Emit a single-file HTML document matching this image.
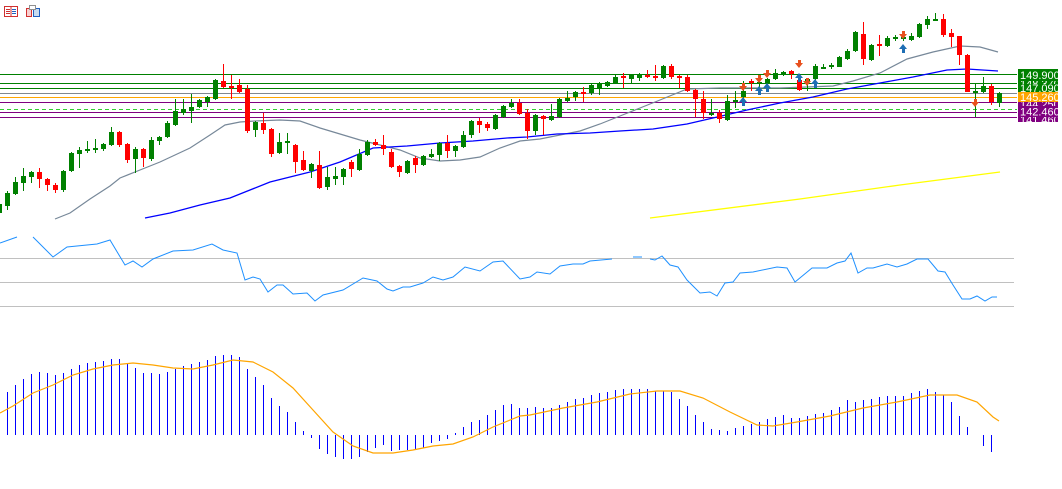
<!DOCTYPE html>
<html><head><meta charset="utf-8"><style>
html,body{margin:0;padding:0;background:#fff;width:1062px;height:489px;overflow:hidden}
svg{display:block}
text{font-family:"Liberation Sans",sans-serif;font-size:11px;fill:#fff}
</style></head><body>
<svg id="s" width="1062" height="489" viewBox="0 0 1062 489" xmlns="http://www.w3.org/2000/svg" shape-rendering="crispEdges">
<!-- icons -->
<rect x="4.5" y="6.5" width="13" height="10" fill="#fff" stroke="#d03030"/>
<line x1="11" y1="7" x2="11" y2="16" stroke="#d03030"/>
<line x1="12" y1="9.5" x2="16" y2="9.5" stroke="#2060c0"/><line x1="12" y1="11.5" x2="16" y2="11.5" stroke="#2060c0"/><line x1="12" y1="13.5" x2="16" y2="13.5" stroke="#2060c0"/>
<line x1="6" y1="9.5" x2="10" y2="9.5" stroke="#d03030"/><line x1="6" y1="11.5" x2="10" y2="11.5" stroke="#d03030"/><line x1="6" y1="13.5" x2="10" y2="13.5" stroke="#d03030"/>
<rect x="26.5" y="8.5" width="5" height="8" fill="#f8d0d0" stroke="#d03030"/>
<rect x="33.5" y="8.5" width="6" height="8" fill="#c8dcf0" stroke="#2060c0"/>
<rect x="29.5" y="5.5" width="6" height="4" fill="#fff" stroke="#909090"/>
<g id="g"></g>
</svg>
<script>
var g=document.getElementById('g');var NS='http://www.w3.org/2000/svg';
function el(t,a){var e=document.createElementNS(NS,t);for(var k in a)e.setAttribute(k,a[k]);g.appendChild(e);return e;}
function poly(pts,c,w){el('polyline',{points:pts.map(function(p){return p.join(',')}).join(' '),fill:'none',stroke:c,'stroke-width':w||1,'shape-rendering':'auto'});}
// horizontal levels
[[74.5,'#008000'],[83.5,'#008000'],[88.5,'#008000'],[93.5,'#808890'],[97.5,'#ffa500'],[102.5,'#800080'],[112.5,'#800080'],[117.5,'#800080']].forEach(function(l){el('line',{x1:0,x2:1017,y1:l[0],y2:l[0],stroke:l[1],'stroke-width':1.3});});
el('line',{x1:0,x2:1017,y1:109.5,y2:109.5,stroke:'#32cd32','stroke-dasharray':'4,3'});
// MAs
poly([[55,219],[70,213],[90,199],[110,186],[120,178],[140,170],[160,162],[190,148],[210,135],[225,125],[240,122],[255,121],[280,120],[300,121],[320,128],[340,134],[360,140],[380,145],[400,150],[420,158],[440,161],[460,160],[480,157],[500,148],[520,141],[540,139],[560,135],[580,131],[600,124],[620,116],[640,108],[660,100],[687,89],[720,88],[780,88],[833,86],[853,81],[880,73],[907,59],[933,52],[960,46],[980,47],[998,52]],'#778899',1.2);
poly([[145,218],[170,213],[200,205],[230,198],[250,190],[270,182],[290,177],[310,172],[340,162],[373,148],[407,146],[440,143],[473,141],[507,138],[527,137],[557,134],[590,133],[620,131],[653,129],[687,124],[713,118],[747,110],[780,103],[813,97],[847,89],[880,83],[913,77],[947,70],[967,69],[998,71]],'#0000ff',1.3);
poly([[650,218],[800,199],[900,185],[1000,172]],'#ffff00',1.3);
// candles [o,c,h,l]
var C={};
function add(i,o,c,h,l){C[i]=[o,c,h==null?Math.min(o,c)-2:h,l==null?Math.max(o,c)+2:l];}
var d=[[-1,213,204],[0,206,193,null,210],[1,194,182,177,195],[2,183,176,168,191],[3,177,172,171,183],[4,172,179,168,188],[5,179,185,178,191],[6,185,190,183,193],[7,190,171,170,192],[8,171,153,152,172],[9,154,150,147,168],[10,151,149,141,153],[11,149,148,139,153],[12,149,144,143,151],[13,145,132,127,146],[14,132,145,131,147],[15,144,160,143,163],[16,159,149,147,173],[17,149,158,148,167],[18,159,140,137,161],[19,141,137,136,145],[20,137,123,121,138],[21,125,111,99,126],[22,113,109,99,115],[23,111,107,94,123],[24,107,100,99,108],[25,102,97,96,107],[26,99,80,79,100],[27,81,87,64,88],[28,86,87,75,99],[29,85,92,79,93],[30,89,131,85,133],[31,130,122,121,137],[32,123,130,113,134],[33,129,154,128,157],[34,153,142,133,154],[35,143,141,133,154],[36,145,162,144,173],[37,160,170,151,171],[38,171,164,163,178],[39,165,188,151,189],[40,187,177,167,190],[41,179,176,167,185],[42,177,169,168,185],[43,162,169,160,177],[44,170,154,149,171],[45,155,142,140,156],[46,142,145,139,146],[47,145,149,135,155],[48,152,167,149,168],[49,166,172,165,177],[50,173,161,160,174],[51,158,165,156,173],[52,165,156,155,166],[53,157,154,149,158],[54,155,143,142,161],[55,143,151,135,158],[56,151,146,145,157],[57,147,135,131,148],[58,135,121,120,138],[59,121,125,118,133],[60,124,128,122,131],[61,129,115,114,130],[62,117,106,105,118],[63,107,103,99,108],[64,103,114,99,115],[65,113,131,109,139],[66,131,115,114,135],[67,116,119,115,135],[68,120,116,104,121],[69,117,99,98,118],[70,101,98,91,102],[71,97,92,91,101],[72,92,93,87,102],[73,93,85,84,95],[74,89,83,82,95],[75,86,82,81,87],[76,83,77,74,84],[77,76,77,73,88],[78,79,75,74,83],[79,78,74,73,81],[80,75,76,70,78],[81,76,77,65,81],[82,78,66,65,79],[83,66,77,64,79],[84,76,77,75,88],[85,77,91,75,92],[86,90,99,89,117],[87,99,113,91,119],[88,115,113,99,116],[89,113,119,110,123],[90,120,101,95,121],[91,102,100,91,108],[92,97,91,81,99],[93,81,83,79,91],[94,83,82,80,88],[95,83,79,78,85],[96,79,73,69,80],[97,74,72,71,76],[98,71,74,70,79],[99,80,90,78,91],[100,81,79,78,91],[101,79,66,64,80],[102,67,67,64,69],[103,67,65,63,69],[104,67,57,56,67],[105,59,51,49,60],[106,51,32,31,52],[107,34,59,22,65],[108,60,45,44,61],[109,44,45,35,56],[110,46,38,36,47],[111,39,37,35,41],[112,38,37,36,41],[113,40,36,33,41],[114,37,24,23,38],[115,25,19,16,29],[116,19,19,13,21],[117,19,35,14,37],[118,33,37,29,47],[119,36,55,45,65],[120,55,92,54,92],[121,91,91,84,117],[122,92,86,77,93],[123,86,102,84,105],[124,103,93,92,107]];
d.forEach(function(r){var x=7+8*r[0],o=r[1],c=r[2],h=r[3]==null?Math.min(o,c)-2:r[3],l=r[4]==null?Math.max(o,c)+2:r[4];
var col=c<=o?'#008000':'#ff0000';
el('line',{x1:x+0.5,x2:x+0.5,y1:h,y2:l,stroke:col});
var t=Math.min(o,c),b=Math.max(o,c);
if(b-t<2){el('rect',{x:x-2,y:t,width:5,height:2,fill:col});}
else el('rect',{x:x-2,y:t,width:5,height:b-t,fill:col});});
// arrows
function dn(x,y){el('path',{d:'M'+(x-4)+','+(y-3)+'h8l-4,5z M'+(x-1)+','+(y-6)+'h3v4h-3z',fill:'#e8501e','shape-rendering':'auto'});}
function up(x,y){el('path',{d:'M'+(x-4)+','+(y+2)+'h8l-4,-5z M'+(x-1)+','+(y+2)+'h3v4h-3z',fill:'#1e6eb4','shape-rendering':'auto'});}
[[743,89],[759,81],[767,76],[799,66],[807,84],[903,37],[975,105]].forEach(function(p){dn(p[0],p[1]);});
[[743,100],[759,89],[767,86],[799,76],[815,82],[903,47]].forEach(function(p){up(p[0],p[1]);});
// price labels
function lab(y1,y2,col,t){el('rect',{x:1018,y:y1,width:40,height:y2-y1,fill:col});var e=el('text',{x:1020,y:(y1+y2)/2+4});e.textContent=t;}
lab(81,86,'#008000','148.370');
lab(69,81,'#008000','149.900');
lab(84,92,'#008000','147.090');
lab(102,106,'#800080','144.250');
lab(117,122,'#800080','141.460');
lab(92,102,'#ffa500','145.260');
lab(106,117,'#800080','142.460');
// RSI
[258.5,282.5,306.5].forEach(function(y){el('line',{x1:0,x2:1014,y1:y,y2:y,stroke:'#c0c0c0'});});
poly([[0,243],[17,237]],'#1e90ff');
poly([[33,237],[53,257],[67,247],[97,244],[110,240],[125,265],[133,261],[142,267],[153,259],[173,251],[193,250],[212,244],[223,250],[237,253],[245,280],[253,277],[260,279],[268,292],[277,285],[283,285],[293,294],[307,293],[315,301],[323,295],[343,290],[363,278],[377,281],[387,289],[393,291],[403,287],[410,287],[423,283],[433,277],[443,280],[453,277],[465,267],[480,271],[493,262],[503,261],[520,279],[530,277],[537,272],[550,274],[560,266],[573,264],[583,264],[590,261],[612,259]],'#1e90ff');
poly([[633,257],[642,257]],'#1e90ff');
poly([[650,259],[655,260],[662,256],[670,265],[678,267],[687,280],[700,293],[710,292],[717,296],[725,283],[733,282],[740,273],[753,272],[777,267],[787,268],[795,282],[812,268],[827,268],[837,263],[845,261],[851,253],[858,273],[867,268],[873,268],[887,264],[897,267],[907,264],[917,259],[928,259],[938,271],[945,272],[953,285],[962,299],[970,299],[977,296],[985,301],[992,297],[997,297]],'#1e90ff');
// MACD
var m=[392,385,379,374,372,373,375,373,369,365,363,362,361,359,359,364,368,373,373,374,372,369,366,364,362,360,356,355,355,357,369,377,385,398,406,412,422,431,438,449,454,457,459,459,457,452,448,445,451,450,450,450,448,443,441,439,433,427,422,420,415,410,405,404,408,408,407,408,408,405,402,399,398,395,393,392,390,389,389,389,389,391,391,392,399,406,415,422,429,430,431,428,426,424,422,419,417,415,418,418,416,414,413,410,407,400,402,400,399,397,396,396,396,393,391,389,392,395,402,416,427,435,446,452];
m.forEach(function(v,i){var x=7+8*i+0.5;if(Math.abs(v-435)<1)return;el('line',{x1:x,x2:x,y1:435,y2:v,stroke:'#0000ff'});});
poly([[0,413],[13,406],[33,393],[53,385],[73,375],[93,369],[113,365],[133,363],[153,365],[173,368],[193,369],[213,365],[233,360],[253,362],[273,372],[293,388],[313,410],[333,432],[353,446],[373,453],[393,453],[413,450],[433,446],[453,444],[473,437],[493,427],[520,416],[530,415],[563,408],[597,402],[630,394],[657,391],[680,391],[703,398],[730,412],[757,425],[773,426],[797,422],[830,416],[863,408],[897,402],[930,395],[957,395],[977,402],[993,417],[999,421]],'#ffa500',1.2);
</script>
</body></html>
